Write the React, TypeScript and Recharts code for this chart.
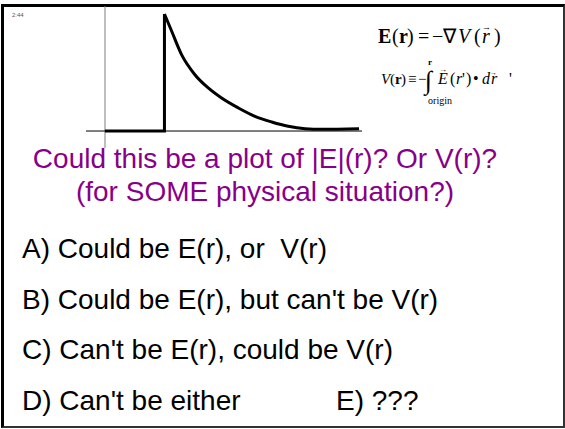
import React from 'react';
import { LineChart, Line, XAxis, YAxis, ReferenceLine } from 'recharts';

// Field profile: zero up to the step, then a jump and a decaying tail
const stepR = [0, 2.05, 2.05];
const stepV = [0, 0, 1];
const decayR = [2.05, 2.3, 2.64, 3.1, 3.56, 4.02, 4.6, 5.17, 5.75, 6.32, 6.9, 7.47, 8.76];
const decayV = [1, 0.852, 0.652, 0.481, 0.368, 0.282, 0.197, 0.126, 0.077, 0.04, 0.02, 0.015, 0.02];

const question = ['Could this be a plot of |E|(r)? Or V(r)?', '(for SOME physical situation?)'];
const answers = [
  'A) Could be E(r), or\u00A0 V(r)',
  "B) Could be E(r), but can't be V(r)",
  "C) Can't be E(r), could be V(r)",
  "D) Can't be either",
];
const extraAnswer = 'E) ???';

const stepData = stepR.map((r, i) => ({ r, v: stepV[i] }));
const decayData = decayR.map((r, i) => ({ r, v: decayV[i] }));

const SANS = '"Liberation Sans", Arial, sans-serif';
const SERIF = '"Liberation Serif", "Times New Roman", serif';
const PURPLE = '#880088';

type Piece = { t: string; x: number; bold?: boolean; italic?: boolean };

// E(r) = -grad V(r)
const gradLine: Piece[] = [
  { t: 'E', x: 378, bold: true },
  { t: '(', x: 392 },
  { t: 'r', x: 399, bold: true },
  { t: ')', x: 407 },
  { t: '=', x: 418 },
  { t: '−', x: 432 },
  { t: '∇', x: 443 },
  { t: 'V', x: 458, italic: true },
  { t: '(', x: 474 },
  { t: 'r', x: 482, italic: true },
  { t: ')', x: 494 },
];

// V(r) = - integral of E . dr
const potLeft: Piece[] = [
  { t: 'V', x: 381, italic: true },
  { t: '(', x: 390 },
  { t: 'r', x: 395, bold: true },
  { t: ')', x: 401 },
  { t: '≡', x: 408 },
  { t: '−', x: 418 },
];
const potRight: Piece[] = [
  { t: 'E', x: 438, italic: true },
  { t: '(', x: 450 },
  { t: 'r', x: 456, italic: true },
  { t: "'", x: 462 },
  { t: ')', x: 466 },
  { t: '•', x: 473 },
  { t: 'd', x: 482, italic: true },
  { t: 'r', x: 491, italic: true },
  { t: "'", x: 509 },
];

function Pieces({ items, y, size }: { items: Piece[]; y: number; size: number }) {
  return (
    <g>
      {items.map((p, i) => (
        <text
          key={i}
          x={p.x}
          y={y}
          fontFamily={SERIF}
          fontSize={size}
          fontWeight={p.bold ? 'bold' : 'normal'}
          fontStyle={p.italic ? 'italic' : 'normal'}
          fill="#000"
        >
          {p.t}
        </text>
      ))}
    </g>
  );
}

export default function App() {
  return (
    <div
      style={{
        position: 'absolute',
        left: 0,
        top: 0,
        width: 565,
        height: 429,
        background: '#fff',
        overflow: 'hidden',
      }}
    >
      {/* slide frame */}
      <div
        style={{
          position: 'absolute',
          left: 1,
          top: 4,
          width: 564,
          height: 424,
          boxSizing: 'border-box',
          borderTop: '3px solid #000',
          borderLeft: '3px solid #000',
          borderRight: '2px solid #333',
          borderBottom: '2px solid #333',
        }}
      />

      <div style={{ position: 'absolute', left: 86, top: 6 }}>
        <LineChart width={276} height={142} margin={{ top: 0, right: 0, bottom: 0, left: 0 }}>
          <XAxis type="number" dataKey="r" domain={[-0.655, 8.862]} hide allowDataOverflow />
          <YAxis type="number" domain={[-0.145, 1.068]} hide allowDataOverflow />
          <ReferenceLine x={0} stroke="#808080" strokeWidth={1} />
          <ReferenceLine y={0} stroke="#000" strokeWidth={1} />
          <Line
            data={stepData}
            dataKey="v"
            type="linear"
            stroke="#000"
            strokeWidth={3}
            strokeLinejoin="miter"
            dot={false}
            isAnimationActive={false}
          />
          <Line
            data={decayData}
            dataKey="v"
            type="monotone"
            stroke="#000"
            strokeWidth={3}
            dot={false}
            isAnimationActive={false}
          />
        </LineChart>
      </div>

      <svg width={565} height={429} style={{ position: 'absolute', left: 0, top: 0 }}>
        <text x={12} y={17} fontFamily={SANS} fontSize={6} fill="#555">
          2:44
        </text>

        <Pieces items={gradLine} y={43} size={20} />
        <text x={482} y={30} fontFamily={SERIF} fontSize={9} fill="#000">
          →
        </text>

        <Pieces items={potLeft} y={84} size={15} />
        <text x={425} y={89} fontFamily={SERIF} fontSize={26} fill="#000">
          ∫
        </text>
        <text x={428} y={65} fontFamily={SERIF} fontSize={9} fontWeight="bold" fill="#000">
          r
        </text>
        <text x={440} y={104} fontFamily={SERIF} fontSize={10} textAnchor="middle" fill="#000">
          origin
        </text>
        <Pieces items={potRight} y={84} size={16} />
        <text x={439} y={72} fontFamily={SERIF} fontSize={8} fill="#000">
          →
        </text>
        <text x={490} y={75} fontFamily={SERIF} fontSize={7} fill="#000">
          →
        </text>

        {question.map((q, i) => (
          <text
            key={q}
            x={265}
            y={168 + i * 33}
            fontFamily={SANS}
            fontSize={28}
            fill={PURPLE}
            textAnchor="middle"
          >
            {q}
          </text>
        ))}

        {answers.map((a, i) => (
          <text key={a} x={22} y={258 + i * 50.5} fontFamily={SANS} fontSize={28} fill="#000">
            {a}
          </text>
        ))}
        <text x={336} y={409.5} fontFamily={SANS} fontSize={28} fill="#000">
          {extraAnswer}
        </text>
      </svg>
    </div>
  );
}
